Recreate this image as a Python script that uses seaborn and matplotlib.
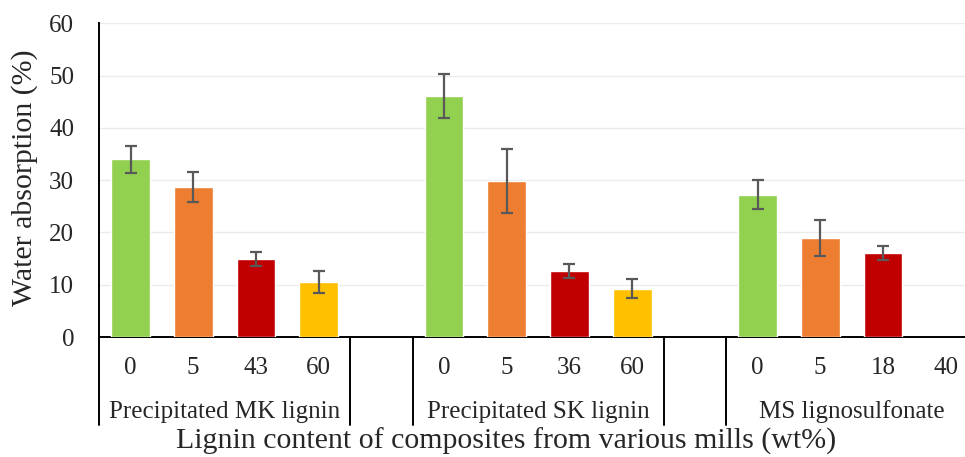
import numpy as np
import pandas as pd
import matplotlib
matplotlib.use("Agg")
import matplotlib.pyplot as plt
import matplotlib.transforms as mtransforms
import seaborn as sns

# ---- data ----
groups = ["Precipitated MK lignin", "Precipitated SK lignin", "MS lignosulfonate"]
lignin_mk = ["0", "5", "43", "60"]
lignin_sk = ["0", "5", "36", "60"]
lignin_ms = ["0", "5", "18", "40"]
absorption_mk = [34.0, 28.7, 14.9, 10.6]
absorption_sk = [46.1, 29.8, 12.6, 9.2]
absorption_ms = [27.2, 18.9, 16.1, np.nan]
error_mk = [2.6, 2.8, 1.3, 2.1]
error_sk = [4.2, 6.1, 1.3, 1.8]
error_ms = [2.8, 3.4, 1.4, np.nan]
colors = ["#92D050", "#ED7D31", "#C00000", "#FFC000"]

lignins = [lignin_mk, lignin_sk, lignin_ms]
values = [absorption_mk, absorption_sk, absorption_ms]
errors = [error_mk, error_sk, error_ms]

# build slot table (with an empty slot between groups)
rows = []
order = []
ticklabels = []
palette = {}
for gi, g in enumerate(groups):
    for li, lab in enumerate(lignins[gi]):
        key = f"{g}|{lab}"
        order.append(key)
        ticklabels.append(lab)
        palette[key] = colors[li]
        rows.append({"slot": key, "value": values[gi][li], "err": errors[gi][li]})
    if gi < len(groups) - 1:
        key = f"gap{gi}"
        order.append(key)
        ticklabels.append("")
        palette[key] = "#ffffff"
df = pd.DataFrame(rows)

sns.set_theme(style="white")
plt.rcParams["font.family"] = ["Liberation Serif", "DejaVu Serif"]

W, H = 965, 457
fig = plt.figure(figsize=(W / 100, H / 100), dpi=100)
ax_left, ax_right = 99.2, 977.0
ax_bottom, ax_top = 337.0, 23.3
ax = fig.add_axes([ax_left / W, (H - ax_bottom) / H,
                   (ax_right - ax_left) / W, (ax_bottom - ax_top) / H])

sns.barplot(data=df, x="slot", y="value", hue="slot", order=order,
            hue_order=order, palette=palette, width=0.62, legend=False,
            errorbar=None, saturation=1, ax=ax, zorder=3)

# error bars at slot positions
pos = {k: i for i, k in enumerate(order)}
d = df.dropna()
ax.errorbar([pos[s] for s in d["slot"]], d["value"], yerr=d["err"],
            fmt="none", ecolor="#595959", elinewidth=1.6, capsize=4.3,
            capthick=1.6, zorder=4)

ax.set_ylim(0, 60)
ax.set_xlim(-0.5, len(order) - 0.5)
ax.set_yticks(np.arange(0, 61, 10))
ax.yaxis.grid(True, color="#EBEBEB", linewidth=1.0, zorder=0)
ax.set_axisbelow(True)
for s in ["top", "right"]:
    ax.spines[s].set_visible(False)
for s in ["left", "bottom"]:
    ax.spines[s].set_color("black")
    ax.spines[s].set_linewidth(1.4)
ax.set_xticks(range(len(order)))
ax.set_xticklabels(ticklabels, fontsize=18)
ax.tick_params(axis="x", length=0, pad=14.5)
ax.tick_params(axis="y", length=0, pad=18, labelsize=18)
ax.set_xlabel("")
ax.set_ylabel("")

# multi-level category separators and group labels
trans = mtransforms.blended_transform_factory(ax.transData, ax.transAxes)
sep_bottom = -(425 - ax_bottom) / (ax_bottom - ax_top)
bounds = [-0.5]
idx = 0
for gi, g in enumerate(groups):
    start = idx
    idx += len(lignins[gi])
    end = idx
    center = (start + end - 1) / 2
    ax.text(center, -(412 - ax_bottom) / (ax_bottom - ax_top), g,
            transform=trans, ha="center", va="center", fontsize=18)
    bounds.append(end - 0.5)
    if gi < len(groups) - 1:
        idx += 1
        bounds.append(idx - 0.5)
    else:
        bounds.append(end - 0.5)
for b in bounds:
    ax.plot([b, b], [0, sep_bottom], transform=trans, color="black",
            linewidth=1.4, clip_on=False, zorder=5)

fig.text(25 / W, (H - 178) / H, "Water absorption (%)", rotation=90,
         ha="center", va="center", fontsize=21.5)
fig.text(506 / W, (H - 441) / H,
         "Lignin content of composites from various mills (wt%)",
         ha="center", va="center", fontsize=21.5)

fig.savefig("out.png", dpi=100)
